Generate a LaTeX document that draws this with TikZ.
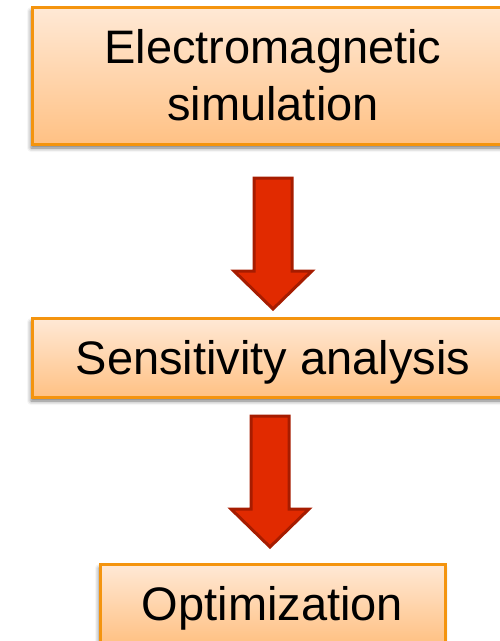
\documentclass[tikz,border=0pt]{standalone}
\usepackage{fontspec}
\setmainfont{Liberation Sans}
\usetikzlibrary{shadows.blur}
\definecolor{boxline}{HTML}{F4940E}
\definecolor{boxtop}{HTML}{FFE9D6}
\definecolor{boxbot}{HTML}{FFC184}
\definecolor{arrfill}{HTML}{E12A00}
\definecolor{arrline}{HTML}{A61C00}
\tikzset{
  stepbox/.style={draw=boxline, line width=3pt, top color=boxtop, bottom color=boxbot,
    inner sep=0pt, align=center, font=\fontsize{47}{57}\selectfont,
    blur shadow={shadow xshift=-1pt, shadow yshift=-4pt, shadow blur radius=4pt, shadow opacity=55}},
  bigarrow/.style={draw=arrline, fill=arrfill, line width=3pt, line join=miter}
}
\begin{document}
\begin{tikzpicture}[x=1pt,y=-1pt]
\useasboundingbox (0,0) rectangle (499,641);
\node[stepbox, minimum width=482pt, minimum height=137pt] (em) at (273,75.5) {Electromagnetic\\simulation};
\node[stepbox, text depth=0pt, minimum width=482pt, minimum height=79pt] (sa) at (273,357.5) {Sensitivity analysis};
\node[stepbox, text depth=0pt, minimum width=345pt, minimum height=79pt] (op) at (272.5,603.5) {Optimization};
% arrow 1
\coordinate (a1) at (273,178);
\draw[bigarrow] ([xshift=-19pt]a1) -- ([xshift=19pt]a1) -- ++(0,93) -- ++(20,0) -- (273,309) -- (234,271) -- ++(20,0) -- cycle;
% arrow 2
\coordinate (a2) at (270,416);
\draw[bigarrow] ([xshift=-19pt]a2) -- ([xshift=19pt]a2) -- ++(0,93) -- ++(20,0) -- (270,547) -- (231,509) -- ++(20,0) -- cycle;
\end{tikzpicture}
\end{document}
